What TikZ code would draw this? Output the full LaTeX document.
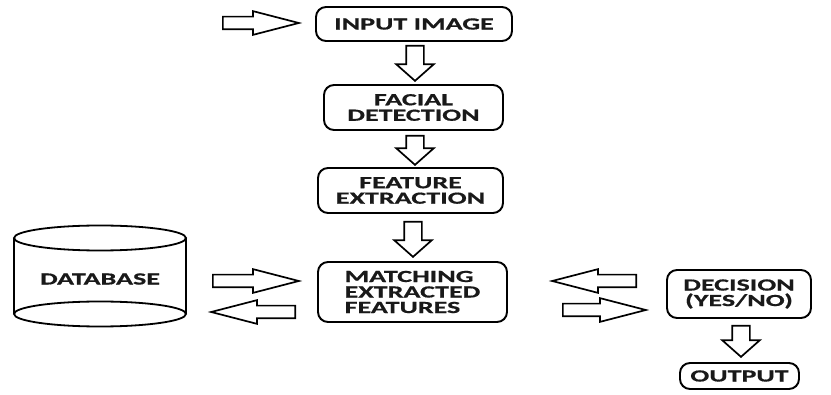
\documentclass[tikz,border=0pt]{standalone}
\usepackage{fontspec}
\newfontfamily\boxfont[FakeStretch=1.65, BoldFeatures={FakeBold=0.7}]{Carlito}
\usetikzlibrary{shapes.arrows}
\begin{document}
\begin{tikzpicture}[x=1pt,y=-1pt,
  txt/.style={font=\boxfont\bfseries\fontsize{17}{15.5}\selectfont, text=black!90},
  box/.style={txt, draw, rounded corners=10pt, line width=1.9pt, align=center, inner sep=0pt},
  harr/.style={single arrow, draw, line width=1.7pt, inner xsep=0pt, inner ysep=5.5pt, single arrow head extend=5.5pt, single arrow tip angle=29, anchor=tail},
  varr/.style={single arrow, draw, line width=1.7pt, inner xsep=8pt, inner ysep=0pt, single arrow head extend=10pt, single arrow tip angle=97, shape border rotate=270, anchor=tail},
  cyl/.style={draw, line width=1.8pt}
]
\fill[white] (0,0) rectangle (831,395);
\useasboundingbox (0,0) rectangle (831,395);

% boxes
\node[box, minimum width=196pt, minimum height=34pt] (input) at (414,24) {INPUT IMAGE};
\node[box, minimum width=179pt, minimum height=45pt] (facial) at (413.5,107.5) {FACIAL\\DETECTION};
\node[box, minimum width=185pt, minimum height=45pt] (feature) at (410.5,190.5) {FEATURE\\EXTRACTION};
\node[box, minimum width=189pt, minimum height=60pt, align=left] (match) at (412.5,292) {MATCHING\\EXTRACTED\\FEATURES};
\node[box, minimum width=144pt, minimum height=48pt] (decision) at (739,294) {DECISION\\(YES/NO)};
\node[box, minimum width=119pt, minimum height=26pt] (output) at (739.5,376) {OUTPUT};

% database cylinder
\draw[cyl] (100,238) ellipse [x radius=86, y radius=12.5];
\draw[cyl] (14,238) -- (14,314);
\draw[cyl] (186,238) -- (186,314);
\draw[cyl] (100,314) ellipse [x radius=86, y radius=12.5];
\node[txt] (db) at (100,279) {DATABASE};

% block arrows
\node[harr, minimum height=76pt] (a0) at (222,23) {};
\node[varr, minimum height=35pt] (a1) at (415,45) {};
\node[varr, minimum height=29pt] (a2) at (415,135) {};
\node[varr, minimum height=35pt] (a3) at (413,221) {};
\node[harr, minimum height=86pt] (a4) at (212,281) {};
\node[harr, minimum height=84pt, shape border rotate=180] (a5) at (296,312) {};
\node[harr, minimum height=84pt, shape border rotate=180] (a6) at (637,281) {};
\node[harr, minimum height=83pt] (a7) at (562,310) {};
\node[varr, minimum height=31pt] (a8) at (741,325) {};
\end{tikzpicture}
\end{document}
